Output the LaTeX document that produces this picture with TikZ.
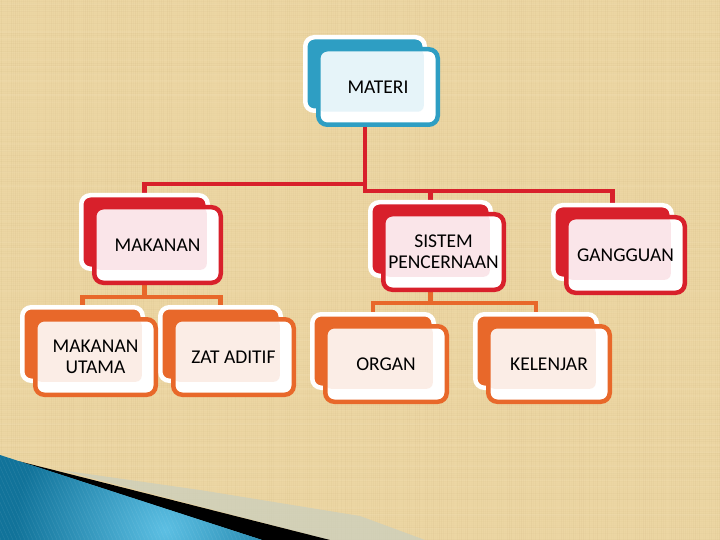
\documentclass[tikz,border=0pt]{standalone}
\usepackage{fontspec}
\setmainfont{Carlito}
\usetikzlibrary{calc}
\pgfdeclarelayer{paper}
\pgfdeclarelayer{links}
\pgfdeclarelayer{backs}
\pgfsetlayers{paper,links,backs,main}
\definecolor{paperc}{HTML}{ECD6A3}
\definecolor{paperd}{HTML}{B0925A}
\definecolor{paperl}{HTML}{F6E6C0}
\definecolor{cblue}{HTML}{2E9EC3}
\definecolor{tblue}{HTML}{E6F4F9}
\definecolor{cred}{HTML}{D8202B}
\definecolor{tred}{HTML}{FAE5E9}
\definecolor{corange}{HTML}{E8682A}
\definecolor{torange}{HTML}{FBEDE6}
\definecolor{swa}{HTML}{11739A}
\definecolor{swb}{HTML}{5CBFE3}
\definecolor{bandc}{HTML}{C9CFC0}
\tikzset{
  backbox/.style={draw=white, line width=4.5pt, rounded corners=9pt, inner sep=0pt,
    outer sep=0pt, anchor=north west, minimum height=73.5pt},
  frontbox/.style={line width=4.5pt, rounded corners=9pt, fill=white, inner sep=0pt,
    outer sep=0pt, anchor=north west, minimum height=75.5pt, align=center,
    text=black, font=\fontsize{19.5}{21}\selectfont},
  redlink/.style={draw=cred, line width=4.3pt},
  orangelink/.style={draw=corange, line width=4.3pt}
}
\newcommand{\orgbox}[7]{%
  \begin{pgfonlayer}{backs}
    \node[backbox, fill=#5, minimum width={#4-4.5}] (#1b) at (#2+2.25,#3+2.25) {};
  \end{pgfonlayer}
  \node[frontbox, draw=#5, minimum width={#4-4.5},
    path picture={\fill[#6, rounded corners=6pt] (path picture bounding box.north west)
      rectangle ([xshift=-14pt,yshift=13pt]path picture bounding box.south east);}]
    (#1) at (#2+15.25,#3+14.25) {#7};
}
\begin{document}
\begin{tikzpicture}[x=1pt,y=-1pt]
\useasboundingbox (0,0) rectangle (720,540);
\begin{pgfonlayer}{paper}
  \fill[paperc] (0,0) rectangle (720,540);
  \pgfmathsetseed{7}
  \foreach \i in {1,3,...,719} {
    \pgfmathsetmacro\op{rnd*0.08}
    \draw[paperd, opacity=\op, line width=0.9pt] (\i,0) -- (\i,540);
  }
  \foreach \j in {1,3,...,539} {
    \pgfmathsetmacro\op{rnd*0.07}
    \draw[paperd, opacity=\op, line width=0.9pt] (0,\j) -- (720,\j);
  }
  \foreach \j in {4,11,...,539} {
    \pgfmathsetmacro\op{rnd*0.18}
    \draw[paperl, opacity=\op, line width=1.2pt] (0,\j) -- (720,\j);
  }
  % swoosh
  \fill[bandc, opacity=0.7] (60,470) -- (200,490) -- (360,516) -- (425,540) -- (330,540) -- cycle;
  \fill[black] (18,461) -- (330,540) -- (262,540) -- cycle;
  \begin{scope}
    \clip (0,455) -- (262,540) -- (0,540) -- cycle;
    \fill[swa] (0,440) rectangle (270,540);
    \shade[inner color=swb, outer color=swa] (165,530) circle (150);
    \foreach \i in {-60,-56,...,270} {
      \draw[white, opacity=0.08, line width=0.5pt] (\i,440) -- (\i+45,540);
    }
  \end{scope}
\end{pgfonlayer}

\orgbox{materi}{303}{35}{124}{cblue}{tblue}{MATERI}
\orgbox{makanan}{79}{193}{131}{cred}{tred}{MAKANAN}
\orgbox{sistem}{368}{200}{125}{cred}{tred}{SISTEM\\PENCERNAAN}
\orgbox{gangguan}{551}{203}{123}{cred}{tred}{GANGGUAN}
\orgbox{utama}{20}{305}{125}{corange}{torange}{MAKANAN\\UTAMA}
\orgbox{zat}{158}{305}{125}{corange}{torange}{ZAT ADITIF}
\orgbox{organ}{310}{312}{126}{corange}{torange}{ORGAN}
\orgbox{kelenjar}{473}{312}{126}{corange}{torange}{KELENJAR}

\coordinate (barL) at (0,184);
\coordinate (barR) at (0,191);
\coordinate (barMK) at (0,297);
\coordinate (barSP) at (0,303);

\begin{pgfonlayer}{links}
  \draw[redlink] (materib.south) -- (materib.south |- barL) -| (makananb.north);
  \draw[redlink] (materib.south) -- (materib.south |- barR) -| (sistemb.north);
  \draw[redlink] (materib.south |- barR) -| (gangguanb.north);
  \draw[orangelink] (makananb.south) -- (makananb.south |- barMK) -| (utamab.north);
  \draw[orangelink] (makananb.south |- barMK) -| (zatb.north);
  \draw[orangelink] (sistemb.south) -- (sistemb.south |- barSP) -| (organb.north);
  \draw[orangelink] (sistemb.south |- barSP) -| (kelenjarb.north);
\end{pgfonlayer}
\end{tikzpicture}
\end{document}
